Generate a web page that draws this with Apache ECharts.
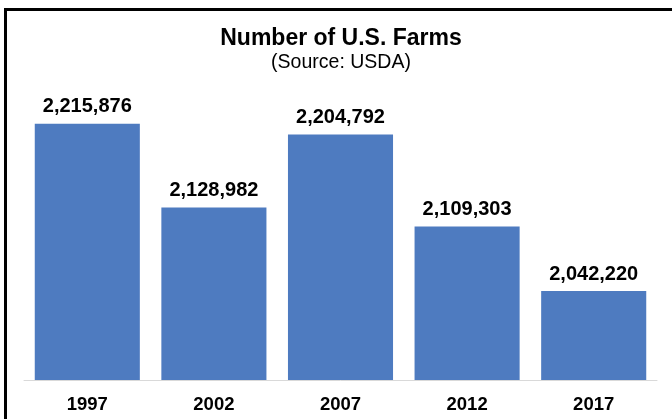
<!DOCTYPE html>
<html>
<head>
<meta charset="utf-8">
<script src="https://cdn.jsdelivr.net/npm/echarts@6/dist/echarts.min.js"></script>
<style>
html,body{margin:0;padding:0;background:#fff;}
#chart{width:672px;height:419px;}
</style>
</head>
<body>
<div id="chart"></div>
<script>
const categories = ['1997', '2002', '2007', '2012', '2017'];
const farms = [2215876, 2128982, 2204792, 2109303, 2042220];
const titleText = 'Number of U.S. Farms';
const subtitleText = '(Source: USDA)';

const chart = echarts.init(document.getElementById('chart'));
chart.setOption({
  animation: false,
  backgroundColor: '#fff',
  title: {
    text: titleText,
    subtext: subtitleText,
    left: 336,
    textAlign: 'center',
    top: 22,
    itemGap: 3,
    textStyle: {fontFamily: 'Liberation Sans, Arial', fontWeight: 'bold', fontSize: 23, color: '#000'},
    subtextStyle: {fontFamily: 'Liberation Sans, Arial', fontSize: 19.5, color: '#000'}
  },
  graphic: [{
    type: 'rect',
    shape: {x: 5.5, y: 9.5, width: 700, height: 500},
    style: {fill: 'none', stroke: '#000', lineWidth: 3},
    z: 100
  }],
  grid: {left: 24, right: 15, top: 100, bottom: 39},
  xAxis: {
    type: 'category',
    data: categories,
    axisLine: {lineStyle: {color: '#D9D9D9', width: 1}},
    axisTick: {show: false},
    axisLabel: {fontFamily: 'Liberation Sans, Arial', fontWeight: 'bold', fontSize: 18.5, color: '#000', margin: 15}
  },
  yAxis: {
    type: 'value',
    min: 1950000,
    max: 2240500,
    show: false,
    splitLine: {show: false}
  },
  series: [{
    type: 'bar',
    data: farms,
    barCategoryGap: '17%',
    itemStyle: {color: '#4E7BC0'},
    label: {
      show: true,
      position: 'top',
      distance: 7,
      fontFamily: 'Liberation Sans, Arial',
      fontWeight: 'bold',
      fontSize: 20,
      color: '#000',
      formatter: p => p.value.toLocaleString('en-US')
    }
  }]
});
</script>
</body>
</html>
